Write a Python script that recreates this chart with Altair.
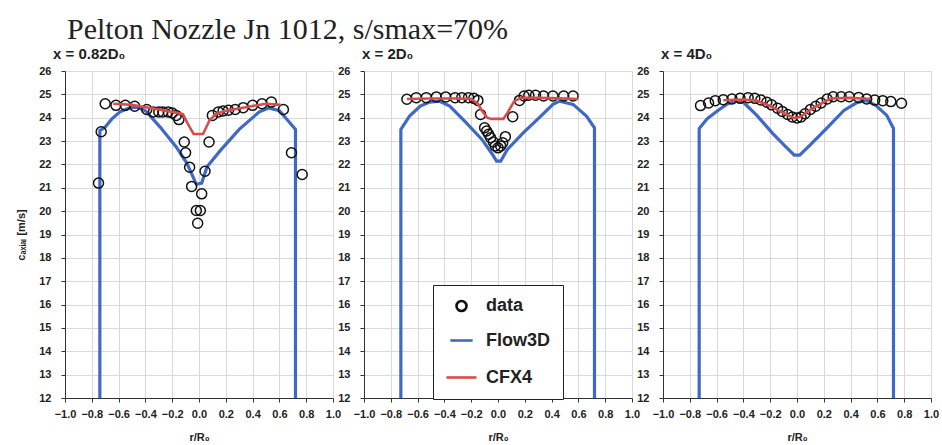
import altair as alt
import pandas as pd

TITLE = "Pelton Nozzle Jn 1012, s/smax=70%"
PANEL_TITLES = ["x = 0.82D\u2080", "x = 2D\u2080", "x = 4D\u2080"]
SERIES = ["data", "Flow3D", "CFX4"]
SERIES_COLORS = ["#111111", "#4069c6", "#d94c4c"]
X_TICKS = [-1.0, -0.8, -0.6, -0.4, -0.2, 0.0, 0.2, 0.4, 0.6, 0.8, 1.0]
Y_TICKS = [12, 13, 14, 15, 16, 17, 18, 19, 20, 21, 22, 23, 24, 25, 26]
Y_TITLE = "c\u2090\u2093\u1d62\u2090\u2097 [m/s]"
X_TITLE = "r/R\u2080"

# ---- panel 1 : x = 0.82 D0 ----
p1_data_r = [-0.75, -0.73, -0.70, -0.62, -0.55, -0.48, -0.39, -0.34, -0.30, -0.27, -0.23, -0.20,
             -0.17, -0.15, -0.11, -0.10, -0.07, -0.055, -0.02, 0.01, -0.01, 0.02, 0.045, 0.075,
             0.10, 0.145, 0.18, 0.22, 0.27, 0.33, 0.40, 0.47, 0.54, 0.63, 0.69, 0.77]
p1_data_v = [21.2, 23.4, 24.6, 24.53, 24.53, 24.49, 24.35, 24.25, 24.25, 24.25, 24.25, 24.2,
             24.1, 23.92, 22.96, 22.5, 21.88, 21.06, 20.03, 20.03, 19.48, 20.74, 21.71, 22.96,
             24.1, 24.25, 24.29, 24.32, 24.35, 24.43, 24.53, 24.6, 24.67, 24.35, 22.5, 21.57]
p1_flow_r = [-0.74, -0.74, -0.70, -0.65, -0.59, -0.52, -0.46, -0.40, -0.29, -0.17, -0.09, -0.02,
             0.02, 0.06, 0.16, 0.30, 0.45, 0.52, 0.60, 0.66, 0.72, 0.72]
p1_flow_v = [12.0, 23.45, 23.6, 23.95, 24.25, 24.42, 24.45, 24.3, 23.6, 22.75, 22.05, 21.15,
             21.2, 21.9, 22.6, 23.5, 24.25, 24.42, 24.3, 23.9, 23.5, 12.0]
p1_cfx_r = [-0.64, -0.5, -0.4, -0.3, -0.2, -0.12, -0.08, -0.04, 0.03, 0.08, 0.13, 0.2, 0.35, 0.5, 0.61]
p1_cfx_v = [24.6, 24.55, 24.45, 24.35, 24.25, 24.15, 23.7, 23.3, 23.3, 23.9, 24.17, 24.3, 24.45, 24.6, 24.55]

# ---- panel 2 : x = 2 D0 ----
p2_data_r = [-0.68, -0.61, -0.535, -0.46, -0.39, -0.32, -0.27, -0.22, -0.18, -0.15, -0.13, -0.10,
             -0.085, -0.07, -0.055, -0.035, -0.02, 0.0, 0.02, 0.035, 0.055, 0.11, 0.16, 0.195,
             0.23, 0.28, 0.34, 0.41, 0.49, 0.56]
p2_data_v = [24.79, 24.86, 24.86, 24.89, 24.89, 24.86, 24.86, 24.86, 24.83, 24.74, 24.14, 23.57,
             23.43, 23.29, 23.14, 22.96, 22.79, 22.71, 22.79, 22.93, 23.19, 24.04, 24.74, 24.93,
             24.96, 24.96, 24.93, 24.93, 24.93, 24.93]
p2_flow_r = [-0.725, -0.725, -0.66, -0.58, -0.51, -0.44, -0.36, -0.24, -0.12, -0.05, -0.01, 0.02,
             0.07, 0.19, 0.32, 0.41, 0.46, 0.56, 0.66, 0.72, 0.72]
p2_flow_v = [12.0, 23.5, 24.07, 24.5, 24.67, 24.71, 24.5, 23.8, 23.07, 22.5, 22.14, 22.14,
             22.64, 23.36, 24.07, 24.57, 24.71, 24.57, 24.07, 23.57, 12.0]
p2_cfx_r = [-0.68, -0.5, -0.3, -0.2, -0.15, -0.12, -0.08, -0.05, 0.04, 0.07, 0.12, 0.17, 0.3, 0.45, 0.6]
p2_cfx_v = [24.8, 24.82, 24.82, 24.8, 24.6, 24.3, 24.0, 23.95, 23.95, 24.2, 24.7, 24.85, 24.85, 24.83, 24.8]

# ---- panel 3 : x = 4 D0 ----
p3_data_r = [-0.72, -0.66, -0.61, -0.55, -0.485, -0.425, -0.365, -0.315, -0.27, -0.225, -0.19,
             -0.145, -0.11, -0.07, -0.035, 0.0, 0.03, 0.06, 0.10, 0.14, 0.18, 0.225, 0.27, 0.33,
             0.39, 0.46, 0.52, 0.58, 0.64, 0.70, 0.78]
p3_data_v = [24.52, 24.63, 24.73, 24.77, 24.8, 24.83, 24.86, 24.83, 24.76, 24.66, 24.55,
             24.41, 24.27, 24.14, 24.03, 23.99, 24.03, 24.17, 24.35, 24.49, 24.63, 24.8, 24.9, 24.9,
             24.9, 24.87, 24.8, 24.76, 24.73, 24.69, 24.62]
p3_flow_r = [-0.73, -0.73, -0.67, -0.59, -0.52, -0.45, -0.40, -0.30, -0.18, -0.085, -0.02, 0.02,
             0.11, 0.23, 0.35, 0.45, 0.52, 0.59, 0.67, 0.72, 0.72]
p3_flow_v = [12.0, 23.54, 23.96, 24.31, 24.59, 24.73, 24.66, 24.1, 23.32, 22.76, 22.4, 22.4,
             22.9, 23.6, 24.31, 24.66, 24.73, 24.52, 24.1, 23.54, 12.0]
p3_cfx_r = [-0.55, -0.4, -0.3, -0.2, -0.1, -0.02, 0.03, 0.1, 0.18, 0.25, 0.4, 0.55]
p3_cfx_v = [24.75, 24.78, 24.72, 24.5, 24.2, 23.98, 24.05, 24.35, 24.6, 24.82, 24.85, 24.8]

PANEL_DATA = [
    (p1_data_r, p1_data_v, p1_flow_r, p1_flow_v, p1_cfx_r, p1_cfx_v),
    (p2_data_r, p2_data_v, p2_flow_r, p2_flow_v, p2_cfx_r, p2_cfx_v),
    (p3_data_r, p3_data_v, p3_flow_r, p3_flow_v, p3_cfx_r, p3_cfx_v),
]

W, H = 268, 327

color = alt.Color(
    "series:N",
    scale=alt.Scale(domain=SERIES, range=SERIES_COLORS),
    legend=alt.Legend(
        title=None, orient="none", legendX=368, legendY=214,
        strokeColor="#222222", fillColor="white", padding=12,
        labelFont="Liberation Sans", labelFontSize=18, labelFontWeight="bold",
        labelColor="#222222", symbolStrokeWidth=2.6, rowPadding=11, labelOffset=8,
    ),
)
shape = alt.Shape("series:N", scale=alt.Scale(domain=SERIES, range=["circle", "stroke", "stroke"]))
size = alt.Size("series:N", scale=alt.Scale(domain=SERIES, range=[100, 900, 900]))


def make_panel(k):
    dr, dv, fr, fv, cr, cv = PANEL_DATA[k]
    pts = pd.DataFrame({"r": dr, "v": dv, "series": "data"})
    flow = pd.DataFrame({"r": fr, "v": fv, "series": "Flow3D", "i": list(range(len(fr)))})
    cfx = pd.DataFrame({"r": cr, "v": cv, "series": "CFX4", "i": list(range(len(cr)))})

    x = alt.X("r:Q", scale=alt.Scale(domain=[-1, 1], nice=False, zero=False),
              axis=alt.Axis(values=X_TICKS, format=".1f", title=X_TITLE, labelOverlap=False,
                            labelBound=False, labelFlush=False, labelPadding=6, titlePadding=12))
    y = alt.Y("v:Q", scale=alt.Scale(domain=[12, 26], nice=False, zero=False),
              axis=alt.Axis(values=Y_TICKS, title=Y_TITLE if k == 0 else "", labelOverlap=False,
                            labelPadding=10, titlePadding=12))

    blue = alt.Chart(flow).mark_line(strokeWidth=3.2).encode(x=x, y=y, color=color, order="i:Q")
    red = alt.Chart(cfx).mark_line(strokeWidth=2.6).encode(x=x, y=y, color=color, order="i:Q")
    dots = alt.Chart(pts).mark_point(filled=False, strokeWidth=1.5, opacity=1).encode(
        x=x, y=y, color=color, shape=shape, size=size)

    return alt.layer(blue, dots, red).properties(
        width=W, height=H,
        title=alt.TitleParams(PANEL_TITLES[k], anchor="start", frame="group", font="Liberation Sans",
                              fontSize=15, fontWeight="bold", color="#222222",
                              offset=3, dx=-12 if k == 0 else -2),
    )


chart = alt.hconcat(make_panel(0), make_panel(1), make_panel(2), spacing=31, bounds="flush").properties(
    title=alt.TitleParams(TITLE, anchor="start", frame="group", font="Liberation Serif",
                          fontSize=30, fontWeight="normal", color="#222222", offset=2, dx=2),
    padding={"left": 15, "top": 15, "right": 0, "bottom": 0},
).configure_view(strokeWidth=0).configure_axis(
    labelFont="Liberation Sans", labelFontSize=11, labelFontWeight="bold", labelColor="#222222",
    titleFont="Liberation Sans", titleFontSize=11, titleFontWeight="bold", titleColor="#222222",
    domainColor="#333333", tickColor="#333333", tickSize=4, gridColor="#d9d9d9", gridWidth=1,
)

chart.save("out.html", embed_options={"renderer": "svg", "actions": False})
